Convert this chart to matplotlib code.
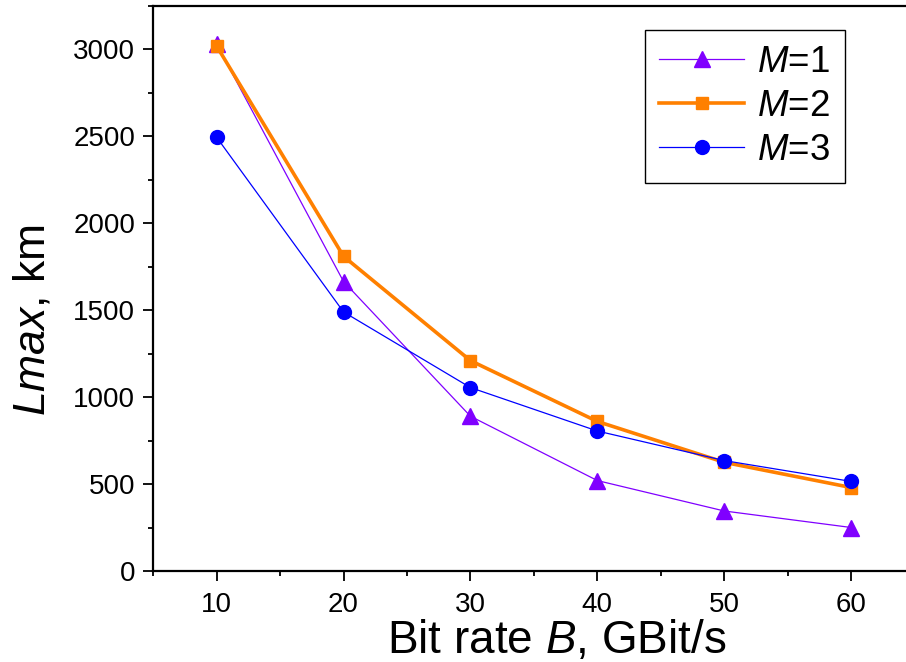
import numpy as np
import matplotlib.pyplot as plt
from matplotlib.ticker import MultipleLocator

plt.rcParams['font.family'] = ['Liberation Sans', 'DejaVu Sans']
plt.rcParams['mathtext.fontset'] = 'custom'
plt.rcParams['mathtext.it'] = 'Liberation Sans:italic'
plt.rcParams['mathtext.rm'] = 'Liberation Sans'

# bit rate, GBit/s
bit_rate = [10, 20, 30, 40, 50, 60]
# maximum link length, km
L_m1 = [3030, 1665, 890, 520, 345, 250]
L_m2 = [3020, 1810, 1210, 860, 625, 480]
L_m3 = [2495, 1490, 1055, 805, 635, 515]
labels = ['$M$=1', '$M$=2', '$M$=3']

fig = plt.figure(figsize=(9.06, 6.62), dpi=100)
ax = fig.add_axes([0.169, 0.1375, 0.835, 0.8535])

ax.plot(bit_rate, L_m1, color='#8000FF', lw=0.9, marker='^', ms=11, label=labels[0])
ax.plot(bit_rate, L_m2, color='#FF8000', lw=2.6, marker='s', ms=9, label=labels[1])
ax.plot(bit_rate, L_m3, color='#0000FF', lw=0.9, marker='o', ms=10, label=labels[2])

ax.set_xlim(5, 64.6)
ax.set_ylim(0, 3250)
ax.xaxis.set_major_locator(MultipleLocator(10))
ax.xaxis.set_minor_locator(MultipleLocator(5))
ax.yaxis.set_major_locator(MultipleLocator(500))
ax.yaxis.set_minor_locator(MultipleLocator(250))
ax.tick_params(which='major', direction='out', length=7, width=1.3, labelsize=20)
ax.tick_params(which='minor', direction='out', length=3.5, width=1.3)
ax.tick_params(axis='x', pad=8)
ax.tick_params(axis='y', pad=6)
for s in ax.spines.values():
    s.set_linewidth(1.6)
ax.spines['right'].set_visible(False)

ax.set_xlabel('Bit rate $B$, GBit/s', fontsize=33)
ax.xaxis.set_label_coords(0.534, -0.085, transform=ax.transAxes)
ax.xaxis.label.set_va('top')
ax.set_ylabel('$Lmax$, km', fontsize=32)
ax.yaxis.set_label_coords(-0.132, 0.445)

leg = ax.legend(loc='upper right', bbox_to_anchor=(0.914, 0.957), borderaxespad=0,
                fontsize=26.5, frameon=True, fancybox=False, edgecolor='black',
                framealpha=1, handlelength=2.3, handletextpad=0.35, borderpad=0.4,
                labelspacing=0.25)
leg.get_frame().set_linewidth(1.0)

fig.savefig('out.png', dpi=100)
